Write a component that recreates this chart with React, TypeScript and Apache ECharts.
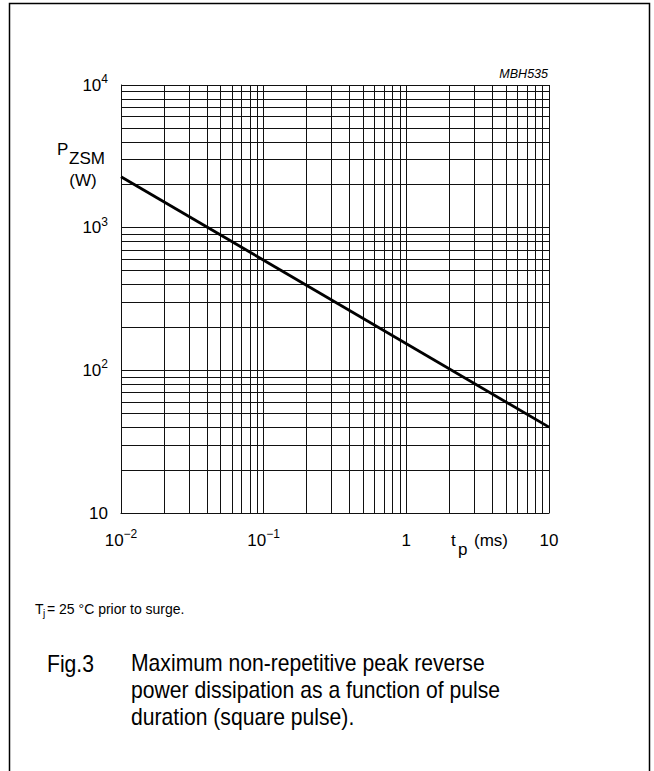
import React, { useEffect, useRef } from "react";
import * as echarts from "echarts";

// ---- data ----
const pulseDurationMs = [0.01, 10];
const peakPowerW = [2275, 40];

const xMin = 0.01;
const xMax = 10;
const yMin = 10;
const yMax = 10000;

const xDecades = [0.01, 0.1, 1];
const yDecades = [10, 100, 1000];
const gridMultipliers = [1, 2, 3, 4, 5, 6, 7, 8, 9];

const xTickExp = [-2, -1, 0, 1];
const xTickBase = ["10", "10", "1", "10"];
const xTickSup = ["−2", "−1", "", ""];
const yTickExp = [1, 2, 3, 4];
const yTickBase = ["10", "10", "10", "10"];
const yTickSup = ["", "2", "3", "4"];

const FONT = "'Liberation Sans', Arial, Helvetica, sans-serif";

function fmt(v: number, exps: number[], bases: string[], sups: string[]) {
  const e = Math.round(Math.log10(v));
  const i = exps.indexOf(e);
  if (i < 0) return "";
  return sups[i] ? `{b|${bases[i]}}{s|${sups[i]}}` : `{b|${bases[i]}}`;
}

const rich = {
  b: { fontSize: 17, fontFamily: FONT, color: "#000", lineHeight: 24 },
  s: { fontSize: 12, fontFamily: FONT, color: "#000", lineHeight: 24, verticalAlign: "top" as const },
};

export default function App() {
  const ref = useRef<HTMLDivElement>(null);
  useEffect(() => {
    if (!ref.current) return;
    const chart = echarts.init(ref.current, undefined, { renderer: "svg" });
    const xGrid = [...xDecades.flatMap((d) => gridMultipliers.map((m) => d * m)), xMax];
    const yGrid = [...yDecades.flatMap((d) => gridMultipliers.map((m) => d * m)), yMax];
    const lineStyle = { color: "#111", width: 1, type: "solid" as const };
    const t = (x: number, y: number, text: string, size: number, extra: any = {}, align = "left") => ({
      type: "text",
      x,
      y,
      ...(extra.scaleX ? { scaleX: extra.scaleX } : {}),
      style: {
        text,
        fontSize: size,
        fontFamily: FONT,
        fill: "#000",
        align,
        verticalAlign: extra.va || "middle",
        ...(extra.style || {}),
      },
    });
    chart.setOption({
      animation: false,
      backgroundColor: "#fff",
      grid: { left: 121, top: 85, width: 428, height: 428, containLabel: false },
      xAxis: {
        type: "log",
        logBase: 10,
        min: xMin,
        max: xMax,
        splitNumber: 3,
        axisLine: { show: true, lineStyle: { color: "#000", width: 1 } },
        axisTick: { show: false },
        splitLine: { show: false },
        axisLabel: {
          margin: 15,
          fontSize: 17,
          formatter: (v: number) => fmt(v, xTickExp, xTickBase, xTickSup),
          rich,
        },
      },
      yAxis: {
        type: "log",
        logBase: 10,
        min: yMin,
        max: yMax,
        splitNumber: 3,
        axisLine: { show: true, lineStyle: { color: "#000", width: 1 } },
        axisTick: { show: false },
        splitLine: { show: false },
        axisLabel: {
          margin: 13,
          fontSize: 17,
          formatter: (v: number) => fmt(v, yTickExp, yTickBase, yTickSup),
          rich,
        },
      },
      series: [
        {
          type: "line",
          data: pulseDurationMs.map((x, i) => [x, peakPowerW[i]]),
          symbol: "none",
          lineStyle: { color: "#000", width: 2.8 },
          z: 10,
          markLine: {
            silent: true,
            symbol: ["none", "none"],
            label: { show: false },
            lineStyle,
            data: [
              ...xGrid.map((v) => ({ xAxis: v })),
              ...yGrid.map((v) => ({ yAxis: v })),
            ],
          },
        },
      ],
      graphic: [
        {
          type: "rect",
          shape: { x: 9.5, y: 3.5, width: 640, height: 820 },
          style: { fill: "none", stroke: "#000", lineWidth: 1.5 },
          silent: true,
        },
        t(548, 74, "MBH535", 12.5, { style: { fontStyle: "italic" } }, "right"),
        t(57, 149, "P", 17),
        t(69, 158, "ZSM", 17),
        t(83, 180, "(W)", 17, {}, "center"),
        t(451, 540, "t", 17),
        t(458, 549, "p", 17),
        t(474, 540, "(ms)", 17),
        t(35, 609, "T", 14),
        t(43, 613, "j", 10),
        t(47, 609, "= 25 °C prior to surge.", 14),
        t(47, 664, "Fig.3", 23, { scaleX: 0.92 }),
        {
          type: "text",
          x: 131,
          y: 650,
          scaleX: 0.92,
          style: {
            text: "Maximum non-repetitive peak reverse\npower dissipation as a function of pulse\nduration (square pulse).",
            fontSize: 23,
            lineHeight: 27,
            fontFamily: FONT,
            fill: "#000",
            align: "left",
            verticalAlign: "top",
          },
        },
      ],
    });
    return () => chart.dispose();
  }, []);
  return <div ref={ref} style={{ position: "absolute", left: 0, top: 0, width: 654, height: 771 }} />;
}
